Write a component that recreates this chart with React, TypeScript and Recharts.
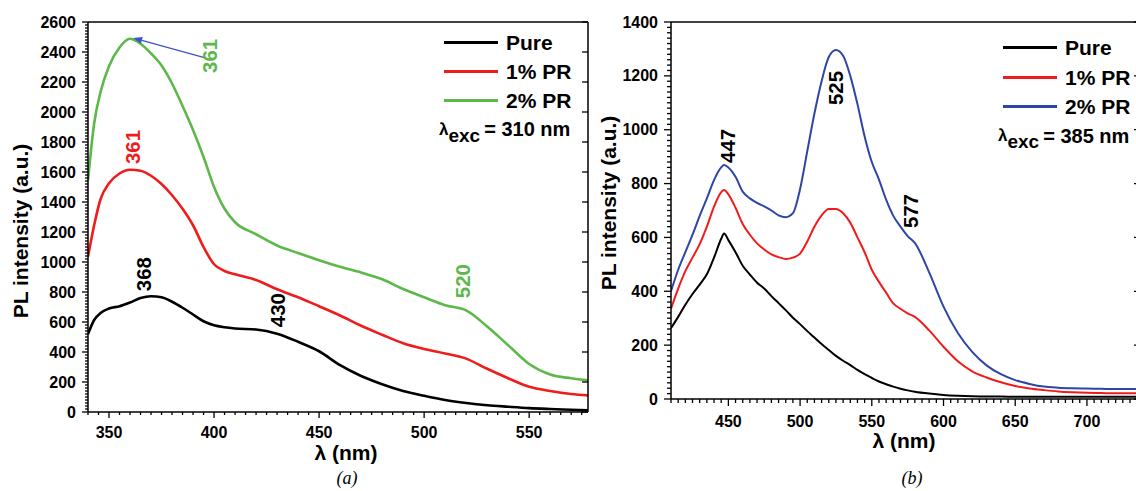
import React from 'react'
import { LineChart, Line, XAxis, YAxis, Legend, ReferenceDot, ReferenceLine } from 'recharts'

const FONT = '"Liberation Sans", Arial, sans-serif'
const BLACK = '#000000'
const RED = '#f01c1c'
const GREEN = '#5db84a'
const BLUE = '#2f45a6'
const ARROW = '#3a55c8'

const seriesNames = ['Pure', '1% PR', '2% PR']

// panel (a), λexc = 310 nm
const lambdaA = [340, 343, 346, 350, 355, 360, 365, 370, 375, 380, 385, 390, 395, 400, 405, 410, 420, 430, 440, 450, 460, 470, 480, 490, 500, 510, 520, 530, 540, 550, 560, 570, 578]
const pureA = [519, 615, 660, 690, 705, 730, 760, 772, 765, 735, 695, 650, 605, 578, 565, 557, 550, 522, 468, 405, 312, 240, 185, 140, 108, 80, 60, 45, 35, 26, 20, 15, 11]
const pr1A = [1035, 1250, 1420, 1525, 1590, 1615, 1608, 1575, 1520, 1445, 1355, 1245, 1100, 985, 940, 918, 880, 818, 765, 705, 643, 575, 515, 458, 420, 390, 356, 288, 225, 168, 140, 120, 111]
const pr2A = [1546, 1930, 2135, 2305, 2430, 2488, 2455, 2390, 2310, 2190, 2040, 1880, 1700, 1500, 1355, 1265, 1185, 1110, 1060, 1012, 968, 930, 885, 820, 765, 712, 678, 570, 445, 320, 250, 225, 212]
const xMajorA = [350, 400, 450, 500, 550]
const yMajorA = [0, 200, 400, 600, 800, 1000, 1200, 1400, 1600, 1800, 2000, 2200, 2400, 2600]
const peaksA = [
  { x: 398, y: 2374, text: '361', color: GREEN },
  { x: 361, y: 1767, text: '361', color: RED },
  { x: 366.3, y: 919, text: '368', color: BLACK },
  { x: 430, y: 679, text: '430', color: BLACK },
  { x: 518.5, y: 872, text: '520', color: GREEN },
]
const arrowA = [{ x: 395.8, y: 2361 }, { x: 361.5, y: 2494 }]

// panel (b), λexc = 385 nm
const lambdaB = [410, 415, 420, 425, 430, 435, 440, 445, 447, 450, 455, 460, 465, 470, 475, 480, 485, 490, 495, 500, 505, 510, 515, 520, 525, 530, 535, 540, 545, 550, 555, 560, 565, 570, 575, 580, 590, 600, 610, 620, 630, 640, 650, 660, 670, 680, 690, 700, 710, 720, 737]
const pureB = [263, 305, 350, 390, 425, 463, 525, 595, 615, 590, 545, 495, 462, 432, 410, 382, 356, 330, 302, 278, 252, 228, 204, 182, 160, 142, 126, 108, 92, 78, 65, 55, 46, 38, 32, 27, 20, 15, 12, 10, 9, 9, 8, 8, 8, 8, 8, 8, 8, 8, 8]
const pr1B = [335, 410, 475, 525, 575, 640, 714, 768, 776, 760, 710, 650, 610, 578, 555, 537, 527, 520, 525, 540, 585, 640, 682, 706, 706, 690, 655, 600, 545, 480, 435, 395, 355, 335, 318, 305, 255, 194, 140, 103, 80, 62, 48, 39, 33, 28, 25, 23, 22, 21, 21]
const pr2B = [400, 480, 545, 610, 680, 745, 813, 860, 869, 860, 825, 770, 745, 728, 715, 700, 682, 675, 690, 780, 920, 1060, 1180, 1270, 1296, 1275, 1200, 1095, 975, 880, 815, 740, 680, 640, 605, 580, 470, 343, 245, 175, 125, 92, 70, 56, 46, 42, 40, 39, 38, 37, 37]
const xMajorB = [450, 500, 550, 600, 650, 700]
const yMajorB = [0, 200, 400, 600, 800, 1000, 1200, 1400]
const peaksB = [
  { x: 449.5, y: 940, text: '447', color: BLACK },
  { x: 524.7, y: 1155, text: '525', color: BLACK },
  { x: 577.1, y: 698, text: '577', color: BLACK },
]

const range = (a: number, b: number, s: number) => {
  const r: number[] = []
  for (let v = a; v <= b + 1e-9; v += s) r.push(Math.round(v * 100) / 100)
  return r
}

const dataA = lambdaA.map((l, i) => ({ l, pure: pureA[i], pr1: pr1A[i], pr2: pr2A[i] }))
const dataB = lambdaB.map((l, i) => ({ l, pure: pureB[i], pr1: pr1B[i], pr2: pr2B[i] }))

type Side = 'bottom' | 'left' | 'top' | 'right'

// one tick = its own mark (long on majors, short on minors) + a label on majors
const axisTick = (side: Side, majors: number[], labelGap: number | null, major = 6, minor = 3) => (p: any) => {
  const v = p.payload.value
  const isMajor = majors.includes(v)
  const len = isMajor ? major : minor
  const x = Number(p.x), y = Number(p.y)
  let d = ''
  if (side === 'bottom' || side === 'top') d = `M${x},${y}V${y + len}`
  else d = `M${x},${y}H${x - len}`
  return (
    <g>
      <path d={d} stroke="#000" strokeWidth={1.3} fill="none" />
      {labelGap !== null && isMajor && side === 'bottom' && (
        <text x={x} y={y + labelGap} textAnchor="middle" dominantBaseline="central"
          fontFamily={FONT} fontWeight={700} fontSize={16} fill="#000">{v}</text>
      )}
      {labelGap !== null && isMajor && side === 'left' && (
        <text x={x - labelGap} y={y} textAnchor="end" dominantBaseline="central"
          fontFamily={FONT} fontWeight={700} fontSize={16} fill="#000">{v}</text>
      )}
    </g>
  )
}

const peakLabel = (text: string, color: string) => (p: any) => {
  const vb = p.viewBox || {}
  const cx = vb.x + (vb.width || 0) / 2
  const cy = vb.y + (vb.height || 0) / 2
  return (
    <text x={cx} y={cy} transform={`rotate(-90 ${cx} ${cy})`} textAnchor="middle" dominantBaseline="central"
      fontFamily={FONT} fontWeight={700} fontSize={21} fill={color} textLength={34} lengthAdjust="spacingAndGlyphs">
      {text}
    </text>
  )
}

const arrowShape = (p: any) => {
  const { x1, y1, x2, y2 } = p
  const a = Math.atan2(y2 - y1, x2 - x1)
  const h = 9, w = 3.5
  const bx = x2 - h * Math.cos(a), by = y2 - h * Math.sin(a)
  const pts = `${x2},${y2} ${bx + w * Math.sin(a)},${by - w * Math.cos(a)} ${bx - w * Math.sin(a)},${by + w * Math.cos(a)}`
  return (
    <g>
      <line x1={x1} y1={y1} x2={bx} y2={by} stroke={ARROW} strokeWidth={1.3} />
      <polygon points={pts} fill={ARROW} />
    </g>
  )
}

const legendBox = (exc: string, rowH: number) => (p: any) => {
  const items = [...(p.payload || [])].sort((a: any, b: any) => seriesNames.indexOf(a.value) - seriesNames.indexOf(b.value))
  return (
    <div style={{ fontFamily: FONT, fontWeight: 700, color: '#000', whiteSpace: 'nowrap' }}>
      {items.map((e: any) => (
        <div key={e.value} style={{ display: 'flex', alignItems: 'center', height: rowH }}>
          <span style={{ display: 'inline-block', width: 54, height: 3, background: e.color, marginRight: 8 }} />
          <span style={{ fontSize: 21, lineHeight: 1 }}>{e.value}</span>
        </div>
      ))}
      <div style={{ display: 'flex', alignItems: 'center', height: rowH, marginLeft: -5 }}>
        <span style={{ fontSize: 17 }}>λ</span>
        <span style={{ fontSize: 19, position: 'relative', top: 6 }}>exc</span>
        <span style={{ fontSize: 20, marginLeft: 4 }}>= {exc}</span>
      </div>
    </div>
  )
}

const yTitle = (dx: number, dy: number) => (p: any) => {
  const vb = p.viewBox
  const cx = vb.x + dx
  const cy = vb.y + vb.height / 2 + dy
  return (
    <text x={cx} y={cy} transform={`rotate(-90 ${cx} ${cy})`} textAnchor="middle" dominantBaseline="central"
      fontFamily={FONT} fontWeight={700} fontSize={21} fill="#000">PL intensity (a.u.)</text>
  )
}

const xTitle = (dx: number, dy: number) => (p: any) => {
  const vb = p.viewBox
  return (
    <text x={vb.x + vb.width / 2 + dx} y={vb.y + dy} textAnchor="middle" dominantBaseline="central"
      fontFamily={FONT} fontWeight={700} fontSize={21} fill="#000">λ (nm)</text>
  )
}

const axisLine = { stroke: '#000', strokeWidth: 1.5 }

function PanelA() {
  const xMinor = range(340, 575, 5)
  const yMinor = range(0, 2600, 20)
  return (
    <LineChart width={600} height={475} data={dataA} margin={{ top: 21, right: 11, bottom: 0, left: 28 }}>
      <XAxis dataKey="l" type="number" domain={[340, 578]} allowDataOverflow ticks={xMinor} interval={0}
        tickSize={0} tickMargin={0} tickLine={false} axisLine={axisLine} height={63}
        tick={axisTick('bottom', xMajorA, 20)} label={xTitle(8, 40)} />
      <XAxis xAxisId="top" orientation="top" type="number" domain={[340, 578]} allowDataOverflow ticks={xMinor}
        interval={0} tickSize={0} tickMargin={0} tickLine={false} axisLine={axisLine} height={1}
        tick={axisTick('top', xMajorA, null)} />
      <YAxis type="number" domain={[0, 2600]} allowDataOverflow ticks={yMinor} interval={0} width={60}
        tickSize={0} tickMargin={0} tickLine={false} axisLine={axisLine}
        tick={axisTick('left', yMajorA, 12)} label={yTitle(-8, 14)} />
      <YAxis yAxisId="right" orientation="right" type="number" domain={[0, 2600]} allowDataOverflow ticks={yMajorA}
        interval={0} width={1} tickSize={0} tickMargin={0} tickLine={false} axisLine={axisLine}
        tick={axisTick('right', yMajorA, null)} />
      <Legend layout="vertical" align="center" verticalAlign="middle" wrapperStyle={{ left: 444, top: 28, width: 'auto' }}
        content={legendBox('310 nm', 29)} />
      <Line type="monotone" dataKey="pure" name="Pure" stroke={BLACK} strokeWidth={2.6} dot={false} isAnimationActive={false} />
      <Line type="monotone" dataKey="pr1" name="1% PR" stroke={RED} strokeWidth={2.6} dot={false} isAnimationActive={false} />
      <Line type="monotone" dataKey="pr2" name="2% PR" stroke={GREEN} strokeWidth={2.6} dot={false} isAnimationActive={false} />
      {peaksA.map((pk, i) => (
        <ReferenceDot key={i} x={pk.x} y={pk.y} r={1} fill="none" stroke="none" label={peakLabel(pk.text, pk.color)} />
      ))}
      <ReferenceLine segment={arrowA} shape={arrowShape} />
    </LineChart>
  )
}

function PanelB() {
  const xMinor = range(410, 735, 5)
  const yMinor = range(0, 1400, 20)
  return (
    <LineChart width={560} height={470} data={dataB} margin={{ top: 21, right: 9, bottom: 0, left: 21 }}>
      <XAxis dataKey="l" type="number" domain={[410, 737]} allowDataOverflow ticks={xMinor} interval={0}
        tickSize={0} tickMargin={0} tickLine={false} axisLine={axisLine} height={71}
        tick={axisTick('bottom', xMajorB, 22, 7, 4)} label={xTitle(-1.5, 41)} />
      <XAxis xAxisId="top" orientation="top" type="number" domain={[410, 737]} allowDataOverflow ticks={xMinor}
        interval={0} tickSize={0} tickMargin={0} tickLine={false} axisLine={axisLine} height={1}
        tick={axisTick('top', xMajorB, null, 7, 4)} />
      <YAxis type="number" domain={[0, 1400]} allowDataOverflow ticks={yMinor} interval={0} width={60}
        tickSize={0} tickMargin={0} tickLine={false} axisLine={axisLine}
        tick={axisTick('left', yMajorB, 13, 7, 4)} label={yTitle(-2.5, -7.5)} />
      <YAxis yAxisId="right" orientation="right" type="number" domain={[0, 1400]} allowDataOverflow ticks={yMajorB}
        interval={0} width={1} tickSize={0} tickMargin={0} tickLine={false} axisLine={axisLine}
        tick={axisTick('right', yMajorB, null, 6, 6)} />
      <Legend layout="vertical" align="center" verticalAlign="middle" wrapperStyle={{ left: 413, top: 33, width: 'auto' }}
        content={legendBox('385 nm', 29.5)} />
      <Line type="monotone" dataKey="pure" name="Pure" stroke={BLACK} strokeWidth={2} dot={false} isAnimationActive={false} />
      <Line type="monotone" dataKey="pr1" name="1% PR" stroke={RED} strokeWidth={2} dot={false} isAnimationActive={false} />
      <Line type="monotone" dataKey="pr2" name="2% PR" stroke={BLUE} strokeWidth={2} dot={false} isAnimationActive={false} />
      {peaksB.map((pk, i) => (
        <ReferenceDot key={i} x={pk.x} y={pk.y} r={1} fill="none" stroke="none" label={peakLabel(pk.text, pk.color)} />
      ))}
    </LineChart>
  )
}

const caption: React.CSSProperties = {
  position: 'absolute', top: 468, width: 40, textAlign: 'center',
  fontFamily: '"Liberation Serif", "Times New Roman", serif', fontStyle: 'italic', fontSize: 18, color: '#000',
}

export default function App() {
  return (
    <div style={{ position: 'fixed', left: 0, top: 0, width: 1136, height: 491, overflow: 'hidden', background: '#fff' }}>
      <div style={{ position: 'absolute', left: 0, top: 0 }}>
        <PanelA />
      </div>
      <div style={{ position: 'absolute', left: 590, top: 0 }}>
        <PanelB />
      </div>
      <div style={{ ...caption, left: 327 }}>(a)</div>
      <div style={{ ...caption, left: 892 }}>(b)</div>
    </div>
  )
}
